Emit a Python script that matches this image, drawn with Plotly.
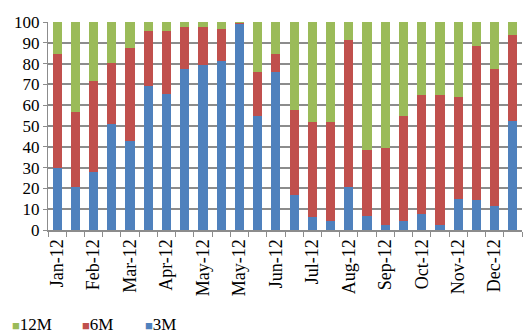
import plotly.graph_objects as go

periods = ["P01","P02","P03","P04","P05","P06","P07","P08","P09","P10","P11","P12","P13",
           "P14","P15","P16","P17","P18","P19","P20","P21","P22","P23","P24","P25","P26"]
tick_labels = ["Jan-12","","Feb-12","","Mar-12","","Apr-12","","May-12","","May-12","","Jun-12",
               "","Jul-12","","Aug-12","","Sep-12","","Oct-12","","Nov-12","","Dec-12",""]

m3 = [29.6, 20.5, 27.7, 51.2, 43.0, 69.3, 65.6, 77.6, 79.5, 81.3, 99.5, 54.9, 75.8,
      16.8, 6.1, 4.3, 20.5, 6.9, 2.2, 4.3, 7.7, 2.2, 14.9, 14.2, 11.4, 52.2]
m6 = [55.2, 36.1, 43.7, 29.1, 44.5, 26.2, 29.9, 20.0, 18.1, 15.2, 0.3, 20.9, 9.0,
      40.8, 45.9, 47.7, 70.7, 31.7, 37.3, 50.6, 57.1, 62.6, 49.1, 74.3, 66.0, 41.7]
m12 = [15.2, 43.4, 28.6, 19.7, 12.5, 4.5, 4.5, 2.4, 2.4, 3.5, 0.2, 24.2, 15.2,
       42.4, 48.0, 48.0, 8.8, 61.4, 60.5, 45.1, 35.2, 35.2, 36.0, 11.5, 22.6, 6.1]

series_names = ["3M", "6M", "12M"]
series_colors = ["#4F81BD", "#C0504D", "#9BBB59"]

FONT = "'Liberation Serif', 'DejaVu Serif', serif"
grid = "#8c8c8c"

fig = go.Figure()
for name, vals, col in zip(series_names, [m3, m6, m12], series_colors):
    fig.add_trace(go.Bar(x=periods, y=vals, name=name,
                         marker=dict(color=col, line_width=0), showlegend=False))

# legend drawn as text entries (12M, 6M, 3M)
legend_x = [-0.078, 0.069, 0.203]
for xpos, name, col in zip(legend_x, series_names[::-1], series_colors[::-1]):
    fig.add_annotation(xref="paper", yref="paper", x=xpos, y=-0.505, xanchor="left",
                       yanchor="bottom", showarrow=False, borderpad=0,
                       text=f'<span style="color:{col};font-size:13px">■</span>{name}',
                       font=dict(family=FONT, size=17, color="black"))

fig.update_layout(
    width=523, height=335,
    barmode="stack", bargap=0.5,
    margin=dict(l=48, r=1, t=22, b=105),
    paper_bgcolor="white", plot_bgcolor="white",
    font=dict(family=FONT, size=17, color="black"),
    showlegend=False,
)
fig.update_xaxes(
    type="category", tickvals=periods, ticktext=tick_labels, tickangle=-90,
    tickson="boundaries", ticks="outside", ticklen=5, tickcolor=grid, tickwidth=1,
    showline=True, linecolor=grid, linewidth=2, showgrid=False,
    tickfont=dict(family=FONT, size=18),
)
fig.update_yaxes(
    range=[0, 100], dtick=10, ticks="outside", ticklen=4, tickcolor=grid,
    showline=True, linecolor=grid, linewidth=1, showgrid=True, gridcolor=grid,
    gridwidth=1.5, zeroline=False, tickfont=dict(family=FONT, size=17),
)
fig.write_html("out.html")
